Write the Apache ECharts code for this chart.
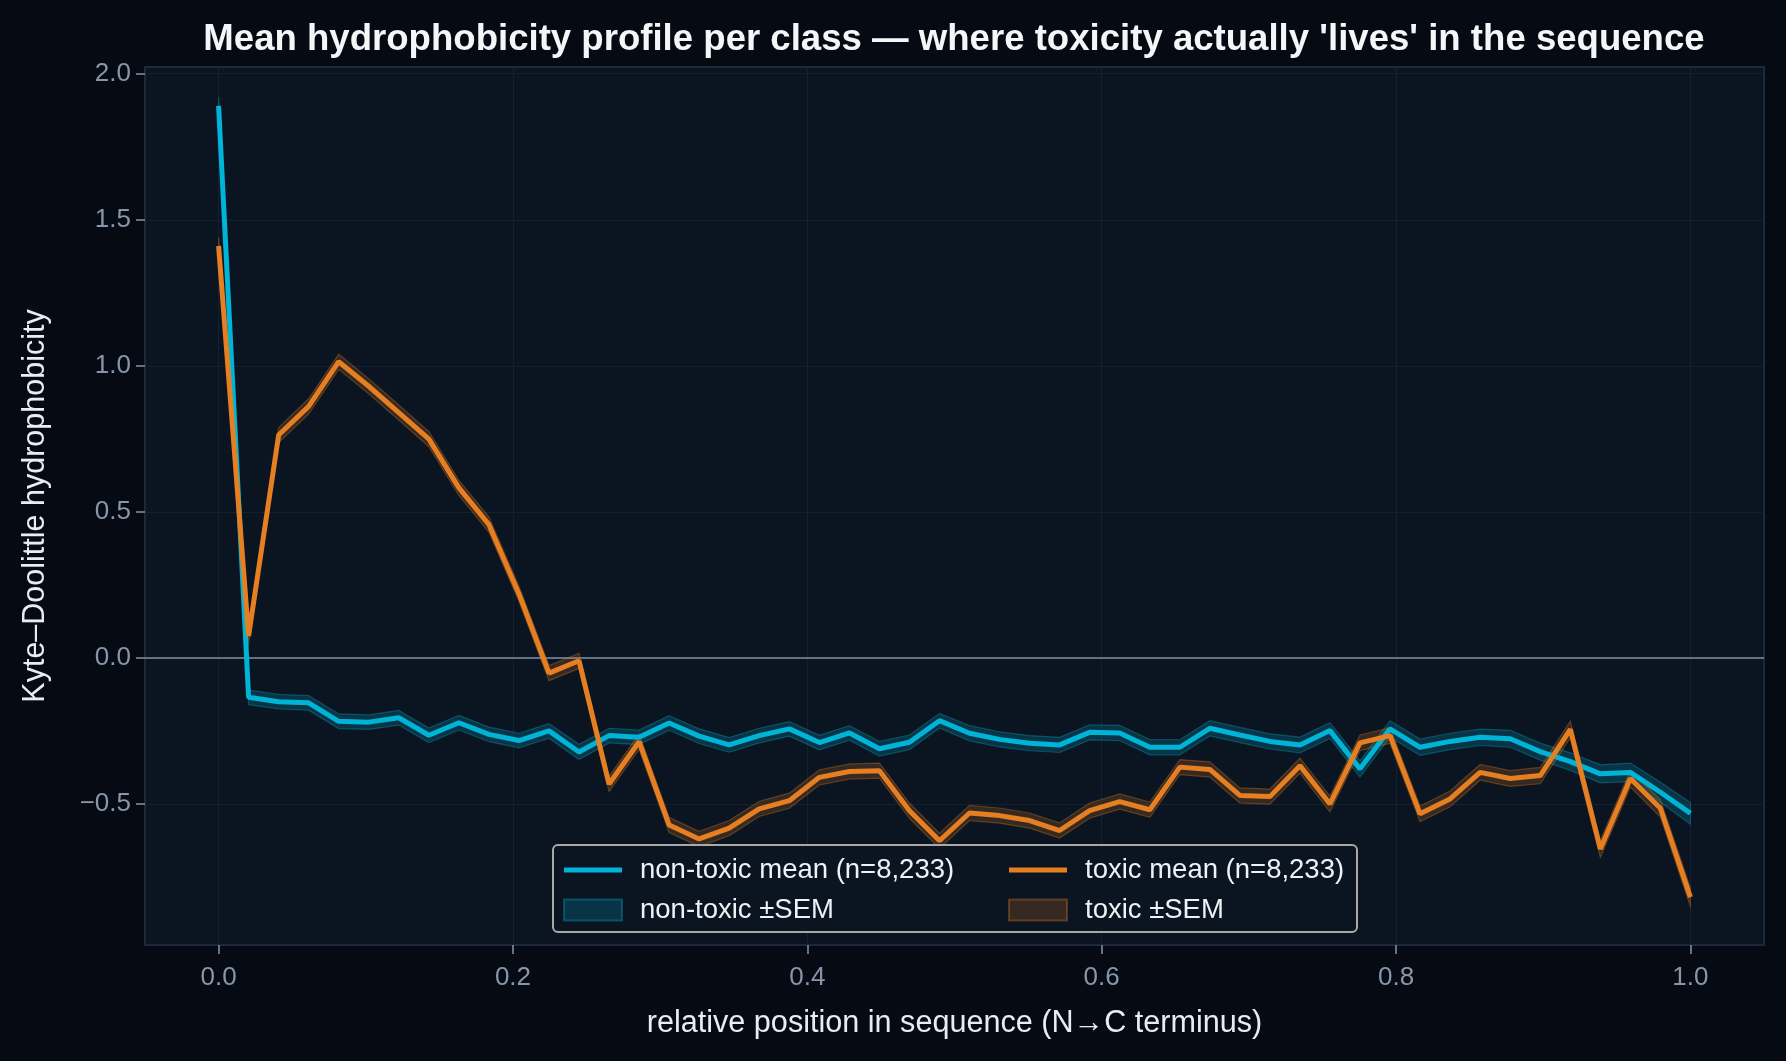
<!DOCTYPE html>
<html><head><meta charset="utf-8">
<script src="https://cdn.jsdelivr.net/npm/echarts@6/dist/echarts.min.js"></script>
<style>html,body{margin:0;padding:0;background:#060a12;} #chart{width:1786px;height:1061px;}</style>
</head><body><div id="chart"></div>
<script>
// relative positions along the sequence (50 bins, N→C)
const positions = [0, 0.0204, 0.0408, 0.0612, 0.0816, 0.102, 0.1224, 0.1429, 0.1633, 0.1837,
  0.2041, 0.2245, 0.2449, 0.2653, 0.2857, 0.3061, 0.3265, 0.3469, 0.3673, 0.3878,
  0.4082, 0.4286, 0.449, 0.4694, 0.4898, 0.5102, 0.5306, 0.551, 0.5714, 0.5918,
  0.6122, 0.6327, 0.6531, 0.6735, 0.6939, 0.7143, 0.7347, 0.7551, 0.7755, 0.7959,
  0.8163, 0.8367, 0.8571, 0.8776, 0.898, 0.9184, 0.9388, 0.9592, 0.9796, 1.0];

const nonToxicMean = [1.89, -0.135, -0.150, -0.154, -0.217, -0.220, -0.205, -0.265, -0.222, -0.262,
  -0.283, -0.250, -0.322, -0.266, -0.272, -0.223, -0.268, -0.298, -0.266, -0.243,
  -0.290, -0.257, -0.311, -0.289, -0.215, -0.258, -0.279, -0.292, -0.298, -0.255,
  -0.257, -0.306, -0.306, -0.241, -0.264, -0.286, -0.298, -0.249, -0.380, -0.243,
  -0.306, -0.286, -0.272, -0.277, -0.321, -0.355, -0.397, -0.392, -0.460, -0.532];

const nonToxicSem = [0.030, 0.025, 0.025, 0.025, 0.025, 0.025, 0.025, 0.025, 0.025, 0.025,
  0.025, 0.025, 0.026, 0.025, 0.025, 0.025, 0.025, 0.025, 0.025, 0.025,
  0.025, 0.025, 0.025, 0.025, 0.025, 0.026, 0.026, 0.026, 0.026, 0.026,
  0.026, 0.026, 0.026, 0.026, 0.026, 0.026, 0.027, 0.027, 0.028, 0.028,
  0.028, 0.028, 0.028, 0.029, 0.029, 0.030, 0.031, 0.032, 0.034, 0.037];

const toxicMean = [1.41, 0.075, 0.763, 0.861, 1.014, 0.930, 0.840, 0.749, 0.582, 0.456,
  0.219, -0.052, -0.010, -0.432, -0.287, -0.572, -0.620, -0.583, -0.517, -0.489,
  -0.409, -0.389, -0.386, -0.523, -0.626, -0.531, -0.540, -0.557, -0.591, -0.523,
  -0.492, -0.520, -0.374, -0.382, -0.471, -0.475, -0.369, -0.500, -0.291, -0.266,
  -0.534, -0.483, -0.392, -0.413, -0.403, -0.245, -0.654, -0.413, -0.515, -0.819];

const toxicSem = [0.030, 0.026, 0.026, 0.026, 0.026, 0.026, 0.026, 0.026, 0.026, 0.026,
  0.026, 0.026, 0.026, 0.026, 0.026, 0.026, 0.026, 0.026, 0.026, 0.026,
  0.026, 0.026, 0.026, 0.026, 0.026, 0.026, 0.026, 0.026, 0.026, 0.026,
  0.026, 0.026, 0.026, 0.026, 0.026, 0.026, 0.026, 0.027, 0.027, 0.027,
  0.027, 0.027, 0.027, 0.027, 0.028, 0.028, 0.029, 0.029, 0.030, 0.032];

const xTicks = [0, 0.2, 0.4, 0.6, 0.8, 1.0];
const yTicks = [-0.5, 0, 0.5, 1.0, 1.5, 2.0];

const NT_NAME = 'non-toxic mean (n=8,233)';
const T_NAME = 'toxic mean (n=8,233)';
const NT_SEM = 'non-toxic ±SEM';
const T_SEM = 'toxic ±SEM';

const FONT = "'Liberation Sans', Arial, Helvetica, sans-serif";
const CYAN = '#00b4d8';
const ORANGE = '#e67e22';
const CYAN_FILL = 'rgba(0,180,216,0.2)';
const CYAN_EDGE = 'rgba(0,180,216,0.32)';
const ORANGE_FILL = 'rgba(230,126,34,0.2)';
const ORANGE_EDGE = 'rgba(230,126,34,0.32)';
const LINE_ICON = 'path://M0,0L60,0L60,5L0,5Z';

const chart = echarts.init(document.getElementById('chart'), null, {renderer: 'canvas', width: 1786, height: 1061});

function pairs(xs, ys) { return xs.map((x, i) => [x, ys[i]]); }

function bandSeries(name, mean, sem, fill, stroke) {
  return {
    type: 'custom', name: name, z: 1, silent: true,
    itemStyle: {color: fill},
    data: positions.map((x, i) => [x, mean[i] - sem[i], mean[i] + sem[i]]),
    encode: {x: 0, y: [1, 2]},
    renderItem: function (params, api) {
      if (params.dataIndex !== 0) return null;
      const upper = [], lower = [];
      for (let i = 0; i < positions.length; i++) {
        upper.push(api.coord([positions[i], mean[i] + sem[i]]));
        lower.push(api.coord([positions[i], mean[i] - sem[i]]));
      }
      return {type: 'polygon', shape: {points: upper.concat(lower.reverse())},
        style: {fill: fill, stroke: stroke, lineWidth: 1.2}};
    }
  };
}

const legendText = {color: '#eef2f6', fontSize: 27.5, fontFamily: FONT, lineHeight: 27, padding: [0, 0, 0, 13]};
const legendBase = {orient: 'vertical', padding: 0, itemWidth: 58, itemHeight: 21, itemGap: 12,
  selectedMode: false, textStyle: legendText, top: 856};

const option = {
  backgroundColor: '#060a12',
  animation: false,
  grid: {left: 145, top: 67, width: 1619, height: 878, show: true,
    backgroundColor: '#0b1521', borderColor: '#1c293a', borderWidth: 2, containLabel: false},
  xAxis: {
    type: 'value', min: -0.05, max: 1.05,
    name: 'relative position in sequence (N→C terminus)', nameLocation: 'middle', nameGap: 63,
    nameTextStyle: {color: '#e8edf2', fontSize: 30.6, fontFamily: FONT},
    axisLine: {show: false, onZero: false},
    axisTick: {show: true, length: 9, customValues: xTicks, lineStyle: {color: '#8595a8', width: 1.5}},
    axisLabel: {customValues: xTicks, formatter: v => v.toFixed(1), color: '#8797aa',
      fontSize: 26, fontFamily: FONT, margin: 20},
    splitLine: {show: true, lineStyle: {color: '#142030', width: 1}}
  },
  yAxis: {
    type: 'value', min: -0.983, max: 2.023,
    name: 'Kyte–Doolittle hydrophobicity', nameLocation: 'middle', nameRotate: 90, nameGap: 94,
    nameTextStyle: {color: '#e8edf2', fontSize: 30.5, fontFamily: FONT},
    axisLine: {show: false, onZero: false},
    axisTick: {show: true, length: 9, customValues: yTicks, lineStyle: {color: '#8595a8', width: 1.5}},
    axisLabel: {customValues: yTicks, formatter: v => (v < 0 ? '\u2212' : '') + Math.abs(v).toFixed(1),
      color: '#8797aa', fontSize: 26, fontFamily: FONT, margin: 14},
    splitLine: {show: true, lineStyle: {color: '#142030', width: 1}}
  },
  legend: [
    Object.assign({}, legendBase, {left: 563, data: [
      {name: NT_NAME, icon: LINE_ICON, itemStyle: {color: CYAN}},
      {name: NT_SEM, icon: 'rect', itemStyle: {color: CYAN_FILL, borderColor: CYAN_EDGE, borderWidth: 2}}
    ]}),
    Object.assign({}, legendBase, {left: 1008, data: [
      {name: T_NAME, icon: LINE_ICON, itemStyle: {color: ORANGE}},
      {name: T_SEM, icon: 'rect', itemStyle: {color: ORANGE_FILL, borderColor: ORANGE_EDGE, borderWidth: 2}}
    ]})
  ],
  graphic: [
    {type: 'text', x: 954, y: 40, z: 10,
      style: {text: "Mean hydrophobicity profile per class \u2014 where toxicity actually 'lives' in the sequence",
        fontSize: 36.6, fontWeight: 'bold', fontFamily: FONT, fill: '#f4f6f8', align: 'center', verticalAlign: 'middle'}},
    {type: 'rect', x: 553, y: 845, z: 3,
      shape: {width: 804, height: 87, r: 5},
      style: {fill: 'rgba(11,21,33,0.9)', stroke: '#a9a9a9', lineWidth: 2}}
  ],
  series: [
    bandSeries(NT_SEM, nonToxicMean, nonToxicSem, CYAN_FILL, CYAN_EDGE),
    bandSeries(T_SEM, toxicMean, toxicSem, ORANGE_FILL, ORANGE_EDGE),
    {type: 'line', name: NT_NAME, data: pairs(positions, nonToxicMean), symbol: 'none', z: 2,
      lineStyle: {color: CYAN, width: 5}, itemStyle: {color: CYAN},
      markLine: {silent: true, symbol: 'none', z: 1, label: {show: false},
        lineStyle: {color: '#7f8fa2', width: 1.5, type: 'solid'}, data: [{yAxis: 0}]}},
    {type: 'line', name: T_NAME, data: pairs(positions, toxicMean), symbol: 'none', z: 2,
      lineStyle: {color: ORANGE, width: 5}, itemStyle: {color: ORANGE}}
  ]
};
chart.setOption(option);
</script></body></html>
